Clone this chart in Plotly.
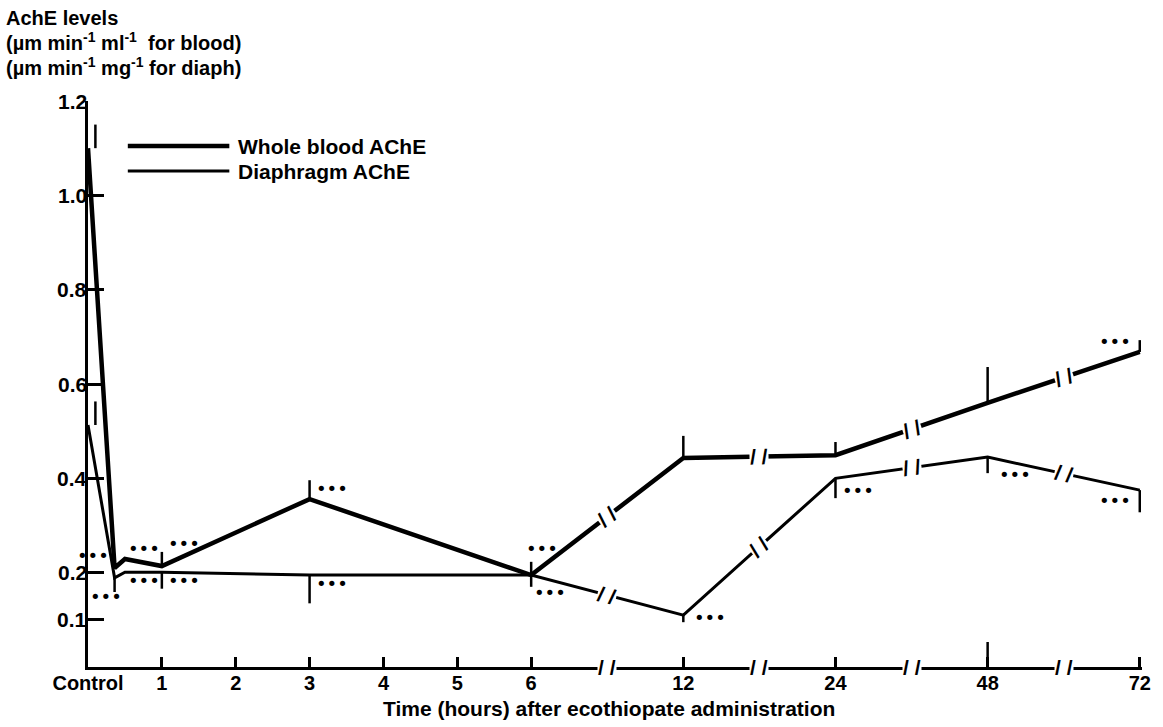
import math
import plotly.graph_objects as go

# ---------------- data ----------------
tick_hours = [0, 1, 2, 3, 4, 5, 6, 12, 24, 48, 72]
tick_labels = ["Control", "1", "2", "3", "4", "5", "6", "12", "24", "48", "72"]

# sampling times (hours after administration; 0 = control)
hours = [0, 0.36, 0.5, 1, 3, 6, 12, 24, 48, 72]

blood_name = "Whole blood AChE"
blood = [1.10, 0.210, 0.229, 0.214, 0.356, 0.195, 0.443, 0.449, 0.560, 0.668]
blood_err_up = [0.050, 0, 0, 0.030, 0.040, 0.028, 0.047, 0.028, 0.076, 0.025]
blood_err_down = [0, 0, 0, 0, 0, 0, 0, 0, 0, 0]

diaph_name = "Diaphragm AChE"
diaph = [0.513, 0.189, 0.201, 0.201, 0.195, 0.195, 0.110, 0.400, 0.445, 0.375]
diaph_err_up = [0.050, 0, 0, 0, 0, 0, 0, 0, 0, 0]
diaph_err_down = [0, 0.030, 0, 0.035, 0.060, 0.025, 0.015, 0.042, 0.034, 0.047]

y_ticks = [0.1, 0.2, 0.4, 0.6, 0.8, 1.0, 1.2]
y_tick_labels = ["0.1", "0.2", "0.4", "0.6", "0.8", "1.0", "1.2"]

y_title_lines = [
    "AchE levels",
    "(µm min<sup>-1</sup> ml<sup>-1</sup>  for blood)",
    "(µm min<sup>-1</sup> mg<sup>-1</sup> for diaph)",
]
x_title = "Time (hours) after ecothiopate administration"

# significance markers: (series, point index)
sig_points = [
    ("blood", 1), ("diaph", 1), ("blood", 2), ("diaph", 2),
    ("blood", 3), ("diaph", 3), ("blood", 4), ("diaph", 4),
    ("blood", 5), ("diaph", 5), ("diaph", 6), ("diaph", 7),
    ("diaph", 8), ("blood", 9), ("diaph", 9),
]
# style: (xanchor, xshift px, yshift px) for each marker above
sig_style = [
    ("right", -4, 12), ("center", -9, -19), ("left", 1, 10), ("left", 1, -8),
    ("left", 4, 23), ("left", 4, -8), ("left", 4, 11), ("left", 4, -8),
    ("left", -7, 27), ("left", 1, -17), ("left", 9, -2), ("left", 5, -12),
    ("left", 9, -17), ("right", -7, 10), ("right", -7, -10),
]

# ---------------- layout constants ----------------
W, H = 1163, 727
ML, MR, MT, MB = 88, 16, 101, 60
LINEAR_MAX = 6
BROKEN = [12, 24, 48, 72]
BREAK_STEP = 2.06
X_MAX = LINEAR_MAX + BREAK_STEP * len(BROKEN) + 0.03
Y_MAX = 1.2
PW, PH = W - ML - MR, H - MT - MB
PX_X = PW / X_MAX
PX_Y = PH / Y_MAX
FONT = "Liberation Sans, Arial, sans-serif"


def axis_pos(h):
    if h <= LINEAR_MAX:
        return h
    return LINEAR_MAX + BREAK_STEP * (BROKEN.index(h) + 1)


def paper_x(px):
    return (px - ML) / PW


def paper_y(py):
    return (H - MB - py) / PH


xs = [axis_pos(h) for h in hours]
series = {"blood": blood, "diaph": diaph}

fig = go.Figure()

fig.add_trace(go.Scatter(x=xs, y=blood, mode="lines", name=blood_name,
                         line=dict(color="black", width=4.5), showlegend=False,
                         hoverinfo="skip"))
fig.add_trace(go.Scatter(x=xs, y=diaph, mode="lines", name=diaph_name,
                         line=dict(color="black", width=3), showlegend=False,
                         hoverinfo="skip"))

# error bars (control bar drawn just right of the axis)
err_x = [x + (0.1 if h == 0 else 0) for x, h in zip(xs, hours)]
for vals, up, down in [(blood, blood_err_up, blood_err_down),
                       (diaph, diaph_err_up, diaph_err_down)]:
    fig.add_trace(go.Scatter(
        x=err_x, y=vals, mode="markers",
        marker=dict(size=1, color="rgba(0,0,0,0)"),
        error_y=dict(type="data", symmetric=False, array=up, arrayminus=down,
                     color="black", thickness=2.5, width=0),
        showlegend=False, hoverinfo="skip"))

annotations = []
shapes = []

# axis breaks and line breaks
brk_idx = [hours.index(LINEAR_MAX)] + [hours.index(h) for h in BROKEN]
for a, b in zip(brk_idx[:-1], brk_idx[1:]):
    xm = (xs[a] + xs[b]) / 2
    for vals in (blood, diaph):
        ym = (vals[a] + vals[b]) / 2
        ang = math.degrees(math.atan2((vals[b] - vals[a]) * PX_Y,
                                      (xs[b] - xs[a]) * PX_X))
        annotations.append(dict(x=xm, y=ym, xref="x", yref="y", text="<b>/ /</b>",
                                showarrow=False, bgcolor="white", borderpad=0,
                                textangle=-ang,
                                font=dict(family=FONT, size=21, color="black")))
    annotations.append(dict(x=xm, y=0, xref="x", yref="y", text="<b>/ /</b>",
                            showarrow=False, bgcolor="white", borderpad=0,
                            font=dict(family=FONT, size=21, color="black")))

# significance markers
for (s, i), (xa, dx, dy) in zip(sig_points, sig_style):
    annotations.append(dict(x=xs[i], y=series[s][i], xref="x", yref="y",
                            text="•••", showarrow=False, xanchor=xa,
                            yanchor="middle", xshift=dx, yshift=dy,
                            font=dict(family="DejaVu Sans", size=18, color="black")))

# long tick at 48 h
shapes.append(dict(type="line", xref="x", yref="y", x0=axis_pos(48), x1=axis_pos(48),
                   y0=0, y1=0.053, line=dict(color="black", width=2.5)))

# y tick labels (placed close to the axis)
for v, lab in zip(y_ticks, y_tick_labels):
    annotations.append(dict(x=0, y=v, xref="paper", yref="y", text=lab,
                            showarrow=False, xanchor="right", yanchor="middle",
                            xshift=0, borderpad=0,
                            font=dict(family=FONT, size=21, color="black", weight="bold")))

# y-axis title (three lines, top-left)
for k, line in enumerate(y_title_lines):
    annotations.append(dict(x=paper_x(4), y=paper_y(18 + 24 * k), xref="paper",
                            yref="paper", text=line, showarrow=False,
                            xanchor="left", yanchor="middle",
                            font=dict(family=FONT, size=20, color="black", weight="bold")))

# x-axis title
annotations.append(dict(x=paper_x(611), y=paper_y(708), xref="paper", yref="paper",
                        text=x_title, showarrow=False, xanchor="center",
                        yanchor="middle",
                        font=dict(family=FONT, size=21, color="black", weight="bold")))

# manual legend
for (name, width, py, x0) in [(blood_name, 4.5, 146, 128), (diaph_name, 3, 171, 128)]:
    shapes.append(dict(type="line", xref="paper", yref="paper",
                       x0=paper_x(x0), x1=paper_x(230), y0=paper_y(py), y1=paper_y(py),
                       line=dict(color="black", width=width)))
    annotations.append(dict(x=paper_x(237), y=paper_y(py), xref="paper", yref="paper",
                            text=name, showarrow=False, xanchor="left",
                            yanchor="middle",
                            font=dict(family=FONT, size=21, color="black", weight="bold")))

fig.update_layout(
    width=W, height=H, autosize=False,
    margin=dict(l=ML, r=MR, t=MT, b=MB),
    paper_bgcolor="white", plot_bgcolor="white",
    showlegend=False,
    annotations=annotations, shapes=shapes,
    font=dict(family=FONT, color="black"),
)
fig.update_xaxes(
    range=[0, X_MAX], tickvals=[axis_pos(h) for h in tick_hours],
    ticktext=tick_labels, ticks="inside", ticklen=10, tickwidth=2.5,
    tickcolor="black", showline=True, linewidth=3, linecolor="black",
    showgrid=False, zeroline=False,
    tickfont=dict(family=FONT, size=20, color="black", weight="bold"),
    ticklabelstandoff=-4,
)
fig.update_yaxes(
    range=[0, Y_MAX], tickvals=y_ticks, showticklabels=False,
    ticks="inside", ticklen=16, tickwidth=2.5, tickcolor="black",
    showline=True, linewidth=3, linecolor="black", showgrid=False, zeroline=False,
)

fig.write_html("out.html")
